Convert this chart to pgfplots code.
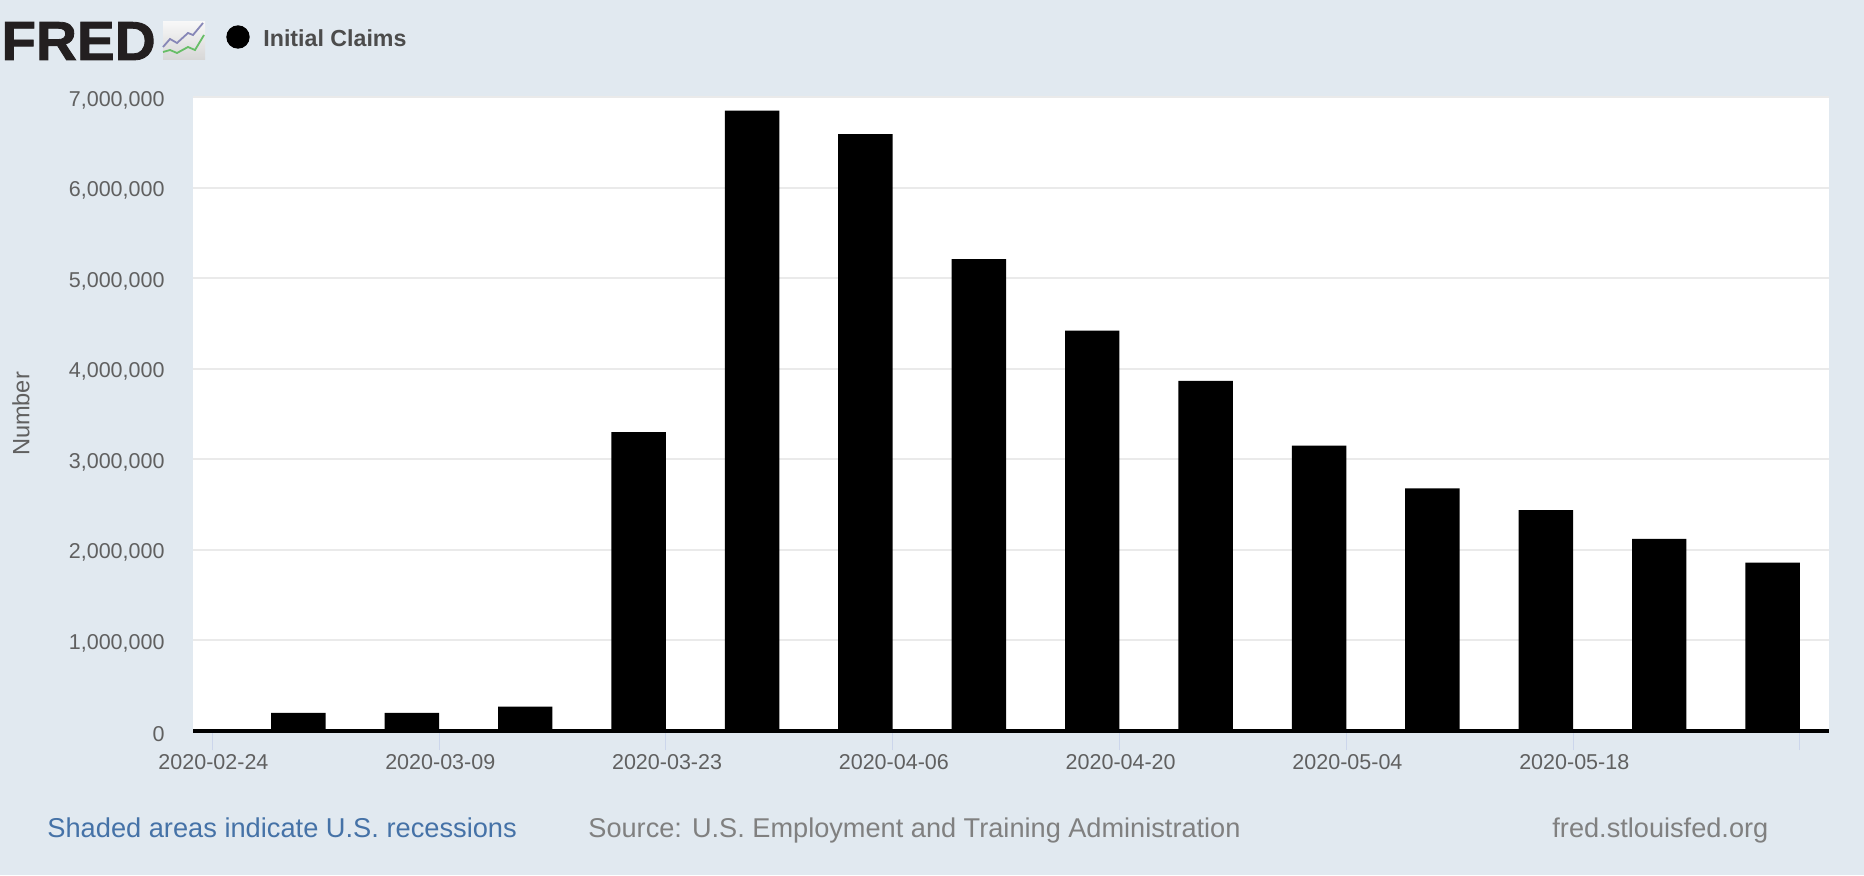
\documentclass[border=0pt]{standalone}
\usepackage{fontspec}
\setmainfont{Liberation Sans}
\newfontface\logofont{Liberation Sans Bold}[FakeBold=1.5]
\usepackage{pgfplots}
\pgfplotsset{compat=1.18}
\definecolor{bgblue}{HTML}{E1E9F0}
\definecolor{gridgray}{HTML}{EAEAEA}
\definecolor{ticktext}{HTML}{606060}
\definecolor{tickblue}{HTML}{CCD6EB}
\definecolor{linkblue}{HTML}{4572A7}
\definecolor{sourcegray}{HTML}{808080}
\definecolor{logodark}{HTML}{231F20}
\begin{document}
\begin{tikzpicture}[x=0.5pt,y=0.5pt]
\useasboundingbox (0,0) rectangle (1864,875);
\fill[bgblue] (0,0) rectangle (1864,875);
\begin{axis}[
    at={(96.5pt,72pt)},
    anchor=south west,
    scale only axis,
    width=818pt,
    height=317pt,
    xmin=-0.170,
    xmax=14.257,
    ymin=0,
    ymax=7000000,
    axis background/.style={fill=white},
    axis x line*=bottom,
    axis y line*=left,
    x axis line style={black,line width=2pt,-},
    y axis line style={draw=none},
    ytick={0,1000000,2000000,3000000,4000000,5000000,6000000,7000000},
    ymajorgrids,
    grid style={gridgray,line width=1pt},
    xtick={0,2,4,6,8,10,12,14},
    xticklabels={2020-02-24,2020-03-09,2020-03-23,2020-04-06,2020-04-20,2020-05-04,2020-05-18,},
    x tick style={tickblue,line width=0.5pt},
    y tick style={draw=none},
    major tick length=9.5pt,
    tick align=outside,
    scaled y ticks=false,
    yticklabel style={
        /pgf/number format/.cd,fixed,1000 sep={,},assume math mode=true,
        /tikz/.cd,font=\fontsize{10.75}{12}\selectfont,text=ticktext,xshift=-1.2pt,yshift=-1.5pt},
    xticklabel style={font=\fontsize{10.75}{12}\selectfont,text=ticktext,xshift=0.6pt,yshift=1.4pt},
    ylabel={Number},
    every axis y label/.style={at={(rel axis cs:0,0.5)},xshift=-86pt,rotate=90,anchor=center,
        font=\fontsize{11.8}{13}\selectfont,text=ticktext},
    clip=false,
]
\addplot[ybar,bar width=0.48,bar shift=0pt,fill=black,draw=none] coordinates {
    (0.76,200000)
    (1.76,200000)
    (2.76,270000)
    (3.76,3300000)
    (4.76,6850000)
    (5.76,6590000)
    (6.76,5210000)
    (7.76,4420000)
    (8.76,3865000)
    (9.76,3150000)
    (10.76,2680000)
    (11.76,2440000)
    (12.76,2120000)
    (13.76,1860000)
};
\end{axis}
% header
\node[anchor=base west,inner sep=0pt,text=logodark,xscale=1.03,font=\fontsize{27.5}{30}\logofont] at (1,815) {FRED};
\shade[top color=gray!6,bottom color=gray!32] (163,815) rectangle (205,853);
\draw[blue!25!gray!75,line width=0.9pt] (163,828) -- (170,836) -- (177,832) -- (188,842) -- (193,840) -- (203,852);
\draw[green!40!gray!85,line width=0.9pt] (163,823) -- (170,825) -- (177,822) -- (188,828) -- (195,825) -- (204,840);
\fill[black] (238,838) circle (11.7);
\node[anchor=west,inner sep=0pt,text=black!70,font=\fontsize{11.6}{13}\selectfont\bfseries] at (263,837) {Initial Claims};
% footer
\node[anchor=base west,inner sep=0pt,text=linkblue,font=\fontsize{13.62}{15}\selectfont] at (47,38) {Shaded areas indicate U.S. recessions};
\node[anchor=base west,inner sep=0pt,text=sourcegray,font=\fontsize{13.58}{15}\selectfont] at (588,38) {Source: U.S. Employment and Training Administration};
\node[anchor=base west,inner sep=0pt,text=sourcegray,font=\fontsize{13.58}{15}\selectfont] at (1552,38) {fred.stlouisfed.org};
\end{tikzpicture}
\end{document}
